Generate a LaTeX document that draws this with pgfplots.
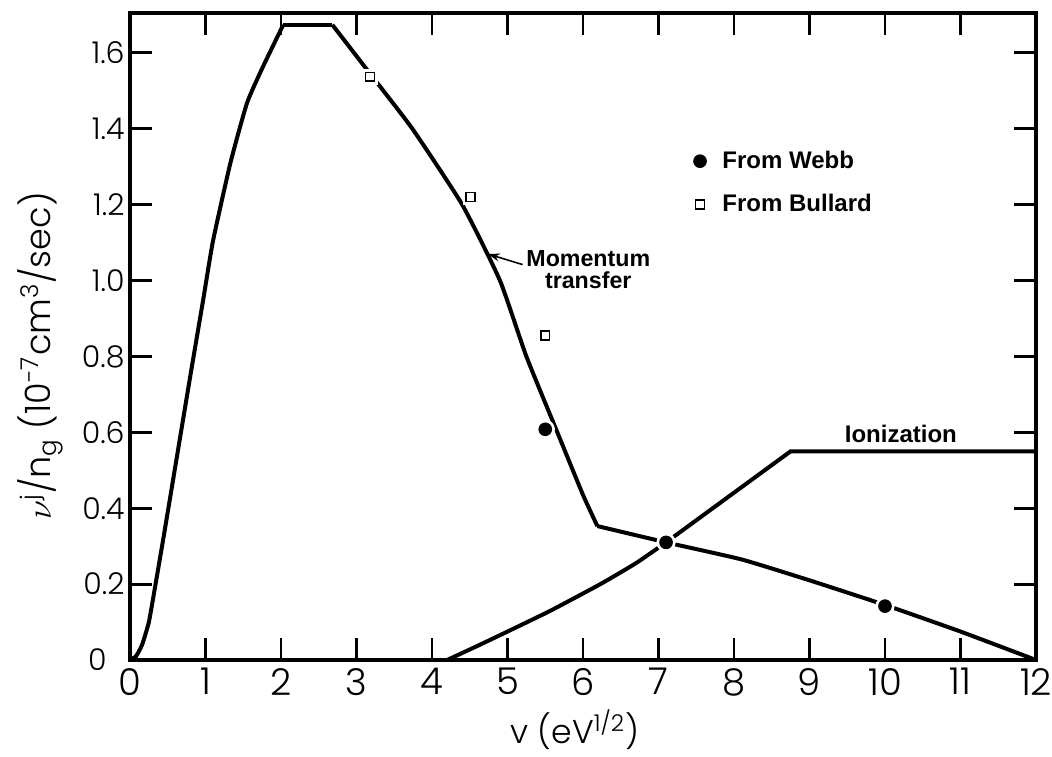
\documentclass[border=0pt]{standalone}
\usepackage{fontspec}
\setmainfont{Poppins}[UprightFont=* Light]
\newfontfamily\notefont{Liberation Sans}
\usepackage{pgfplots}
\usepackage{pgfplotstable}
\pgfplotsset{compat=1.18}
\usetikzlibrary{arrows.meta}

% momentum-transfer collision frequency per gas atom, in pieces
\pgfplotstableread{
x y
0 0
0.08 0.01
0.16 0.04
0.25 0.10
0.33 0.19
0.45 0.33
0.6 0.51
0.8 0.75
0.97 0.95
1.1 1.105
1.33 1.31
1.55 1.468
1.76 1.563
2.03 1.674
}\momrise

\pgfplotstableread{
x y
2.03 1.674
2.68 1.674
}\momtop

\pgfplotstableread{
x y
2.68 1.674
3.18 1.545
3.74 1.40
4.4 1.2
4.9 1.0
5.25 0.8
5.66 0.6
6.0 0.435
6.19 0.353
}\momfall

\pgfplotstableread{
x y
6.19 0.353
7.1 0.31
8.1 0.265
9.0 0.21
10.0 0.145
11.0 0.075
12.0 0
}\momtail

% ionization frequency
\pgfplotstableread{
x y
4.2 0
4.6 0.037
5.0 0.075
5.57 0.13
6.23 0.2
6.7 0.255
7.1 0.31
}\ionrise

\pgfplotstableread{
x y
7.1 0.31
8.75 0.55
12 0.55
}\iontop

\pgfplotstableread{
x y
5.5 0.608
7.1 0.31
10.0 0.142
}\webb

\pgfplotstableread{
x y
3.18 1.537
4.51 1.22
5.5 0.855
}\bullard

\begin{document}
\begin{tikzpicture}
\begin{axis}[
  at={(0,0)}, anchor=south west,
  scale only axis,
  width=453pt, height=323.5pt,
  xmin=0, xmax=12, ymin=0, ymax=1.705,
  clip=false,
  xtick={0,1,...,12},
  xticklabels={0,1,2,3,4,5,6,7,8,9,10,11,12},
  ytick={0,0.2,0.4,0.6,0.8,1.0,1.2,1.4,1.6},
  yticklabels={0\kern9pt,0.2,0.4,0.6,0.8,1.0,1.2,1.4,1.6},
  tick align=inside,
  major tick length=11pt,
  every tick/.style={black, line width=1.4pt},
  axis line style={line width=2.2pt},
  xticklabel style={font=\fontsize{18.5}{20}\selectfont, inner sep=0pt, yshift=-4pt},
  yticklabel style={font=\fontsize{15}{17}\selectfont, inner sep=0pt, xshift=-2.5pt},
  xlabel={v (eV\textsuperscript{1/2})},
  ylabel={$\nu$\textsuperscript{j}/n\textsubscript{g} (10\textsuperscript{-7}cm\textsuperscript{3}/sec)},
  xlabel style={font=\fontsize{16.5}{18}\selectfont, at={(axis description cs:0.491,-0.108)}, anchor=center},
  ylabel style={font=\fontsize{17.5}{19}\selectfont, at={(axis description cs:-0.099,0.47)}, anchor=center},
  legend style={draw=none, fill=none, inner sep=0pt,
    at={(axis cs:7.46,1.353)}, anchor=north west,
    font=\notefont\bfseries\fontsize{12}{14}\selectfont,
    row sep=7.5pt, cells={anchor=west}},
]
\addplot[black, line width=2pt, smooth, tension=0.3, forget plot] table {\momrise};
\addplot[black, line width=2pt, forget plot] table {\momtop};
\addplot[black, line width=2pt, smooth, tension=0.3, forget plot] table {\momfall};
\addplot[black, line width=2pt, smooth, tension=0.3, forget plot] table {\momtail};
\addplot[black, line width=2pt, smooth, tension=0.3, forget plot] table {\ionrise};
\addplot[black, line width=2pt, forget plot] table {\iontop};

% white halos open small gaps in the curves around the markers
\addplot[only marks, mark=*, mark size=4.6pt, white, forget plot] table {\webb};
\addplot[only marks, mark=*, mark size=3.2pt, black] table {\webb};
\addlegendentry{\hspace{6pt}From Webb}
\addplot[only marks, mark=square*, mark size=3.6pt, white, forget plot] table {\bullard};
\addplot[only marks, mark=square*, mark size=2.2pt, black,
  mark options={line width=0.8pt, fill=white}] table {\bullard};
\addlegendentry{\hspace{6pt}From Bullard}

\node[font=\notefont\bfseries\fontsize{11.6}{11}\selectfont, align=center]
  at (axis cs:6.07,1.03) {Momentum\\transfer};
\draw[-{Stealth[length=6pt,width=4pt]}, line width=0.8pt]
  (axis cs:5.2,1.042) -- (axis cs:4.74,1.07);
\node[font=\notefont\bfseries\fontsize{12}{14}\selectfont]
  at (axis cs:10.21,0.595) {Ionization};
\end{axis}
\pgfresetboundingbox
\path (-65pt,-48pt) rectangle (461pt,330pt);
\end{tikzpicture}
\end{document}
